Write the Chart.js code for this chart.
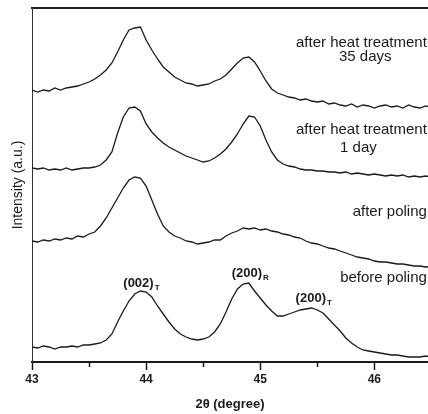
<!DOCTYPE html>
<html>
<head>
<meta charset="utf-8">
<style>
  html, body { margin: 0; padding: 0; background: #fff; }
  #wrap { width: 428px; height: 414px; }
</style>
<script src="https://cdn.jsdelivr.net/npm/chart.js@4"></script>
</head>
<body>
<div id="wrap"><canvas id="xrdChart" width="428" height="414"></canvas></div>
<script>
// 2θ positions (degree)
const twoTheta = [
  43.00, 43.05, 43.10, 43.15, 43.20, 43.25, 43.30, 43.35, 43.40, 43.45,
  43.50, 43.55, 43.60, 43.65, 43.70, 43.75, 43.80, 43.85, 43.90, 43.95,
  44.00, 44.05, 44.10, 44.15, 44.20, 44.25, 44.30, 44.35, 44.40, 44.45,
  44.50, 44.55, 44.60, 44.65, 44.70, 44.75, 44.80, 44.85, 44.90, 44.95,
  45.00, 45.05, 45.10, 45.15, 45.20, 45.25, 45.30, 45.35, 45.40, 45.45,
  45.50, 45.55, 45.60, 45.65, 45.70, 45.75, 45.80, 45.85, 45.90, 45.95,
  46.00, 46.05, 46.10, 46.15, 46.20, 46.25, 46.30, 46.35, 46.40, 46.45, 46.50
];

// Intensidades (a.u.), curvas desplazadas verticalmente
const heat35Days = [
  272, 270, 272, 271, 274, 272, 274, 275, 276, 278, 280, 283, 287, 292, 299, 310, 322, 332, 334, 335,
  322, 312, 303, 295, 290, 285, 282, 279, 278, 276, 277, 278, 281, 283, 287, 293, 299, 304, 305, 300,
  291, 281, 273, 269, 267, 265, 264, 262, 263, 261, 260, 261, 258, 259, 257, 256, 258, 255, 257, 256,
  254, 256, 257, 255, 256, 254, 257, 255, 254, 256, 255
];
const heat1Day = [
  194, 193, 194, 192, 193, 192, 194, 192, 193, 194, 194, 195, 197, 202, 210, 229, 245, 254, 255, 251,
  238, 230, 224, 219, 215, 212, 209, 206, 204, 202, 200, 201, 204, 208, 213, 220, 228, 238, 246, 245,
  236, 222, 210, 202, 198, 196, 195, 193, 192, 192, 191, 191, 190, 190, 189, 190, 188, 189, 188, 187,
  188, 187, 186, 187, 186, 187, 185, 186, 185, 186, 185
];
const afterPoling = [
  121, 120, 122, 121, 123, 122, 124, 123, 126, 125, 128, 130, 136, 144, 154, 164, 174, 182, 185, 184,
  176, 162, 148, 136, 130, 126, 124, 121, 120, 118, 119, 120, 122, 122, 126, 129, 131, 134, 133, 134,
  132, 133, 131, 130, 128, 127, 125, 124, 121, 119, 118, 116, 114, 113, 111, 109, 107, 105, 104, 103,
  101, 100, 100, 99, 98, 98, 97, 96, 96, 95, 95
];
const beforePoling = [
  15, 14, 16, 15, 13, 15, 15, 16, 15, 17, 17, 18, 19, 22, 28, 40, 51, 61, 68, 71,
  70, 65, 56, 48, 40, 33, 28, 25, 23, 22, 23, 25, 30, 38, 50, 63, 73, 78, 79, 71,
  64, 57, 51, 46, 46, 48, 50, 52, 53, 54, 52, 49, 43, 37, 31, 24, 19, 15, 12, 11,
  10, 9, 8, 7, 7, 6, 5, 5, 5, 6, 5
];

const seriesList = [heat35Days, heat1Day, afterPoling, beforePoling];
const seriesNames = ['after heat treatment 35 days', 'after heat treatment 1 day', 'after poling', 'before poling'];

// ticks del eje x
const majorTicks = [43, 44, 45, 46];
const minorTicks = [43.5, 44.5, 45.5];

const FONT = '"Liberation Sans", Arial, sans-serif';
const ink = '#1a1a1a';

// Etiquetas dentro del grafico: [texto, subindice, x (2θ), y (a.u.), alineacion, fuente]
const curveLabels = [
  ['after heat treatment', '', 46.46, 319, 'right', '15px'],
  ['35 days', '', 45.92, 305, 'center', '15px'],
  ['after heat treatment', '', 46.46, 232, 'right', '15px'],
  ['1 day', '', 45.86, 214, 'center', '15px'],
  ['after poling', '', 46.46, 150, 'right', '15px'],
  ['before poling', '', 46.46, 84, 'right', '15px'],
  ['(002)', 'T', 43.80, 79, 'left', 'bold 13px'],
  ['(200)', 'R', 44.75, 89, 'left', 'bold 13px'],
  ['(200)', 'T', 45.31, 64, 'left', 'bold 13px']
];

const labelsPlugin = {
  id: 'labelsPlugin',
  afterDraw(chart) {
    const { ctx, chartArea, scales: { x, y } } = chart;
    ctx.save();
    // ticks menores
    ctx.strokeStyle = ink;
    ctx.lineWidth = 1.5;
    minorTicks.forEach(v => {
      const px = Math.round(x.getPixelForValue(v)) + 0.5;
      ctx.beginPath();
      ctx.moveTo(px, chartArea.bottom);
      ctx.lineTo(px, chartArea.bottom + 5);
      ctx.stroke();
    });
    // textos
    ctx.fillStyle = ink;
    ctx.textBaseline = 'middle';
    curveLabels.forEach(([text, sub, xv, yv, align, font]) => {
      const px = x.getPixelForValue(xv);
      const py = y.getPixelForValue(yv);
      ctx.font = `${font} ${FONT}`;
      ctx.textAlign = align;
      ctx.fillText(text, px, py);
      if (sub) {
        const w = ctx.measureText(text).width;
        ctx.font = `bold 8px ${FONT}`;
        ctx.textAlign = 'left';
        ctx.fillText(sub, px + w + 1, py + 5);
      }
    });
    ctx.restore();
  }
};

const datasets = seriesList.map((serie, i) => ({
  label: seriesNames[i],
  data: twoTheta.map((t, j) => ({ x: t, y: serie[j] })),
  borderColor: ink,
  borderWidth: 1.3,
  pointRadius: 0,
  tension: 0,
  fill: false
}));

new Chart(document.getElementById('xrdChart'), {
  type: 'line',
  data: { datasets },
  options: {
    responsive: false,
    animation: false,
    devicePixelRatio: 1,
    layout: { padding: 0 },
    plugins: {
      legend: { display: false },
      tooltip: { enabled: false }
    },
    scales: {
      x: {
        type: 'linear',
        position: 'bottom',
        min: 43,
        max: 46.47,
        afterBuildTicks: scale => { scale.ticks = majorTicks.map(v => ({ value: v })); },
        afterFit: scale => { scale.height = 52; },
        ticks: {
          font: { family: FONT, size: 12, weight: 'bold' },
          color: ink,
          padding: 2,
          maxRotation: 0,
          callback: v => String(v)
        },
        grid: {
          drawOnChartArea: false,
          drawTicks: true,
          tickLength: 8,
          tickColor: ink,
          tickWidth: 1.5
        },
        border: { color: ink, width: 2 },
        title: {
          display: true,
          text: '2θ (degree)',
          color: ink,
          font: { family: FONT, size: 13, weight: 'bold' },
          padding: { top: 0, bottom: 2 }
        }
      },
      xTop: {
        type: 'linear',
        position: 'top',
        min: 43,
        max: 46.47,
        afterFit: scale => { scale.height = 8; },
        ticks: { display: false },
        grid: { drawOnChartArea: false, drawTicks: false },
        border: { color: '#222', width: 2 }
      },
      y: {
        type: 'linear',
        position: 'left',
        min: 0,
        max: 354,
        afterFit: scale => { scale.width = 32; },
        ticks: { display: false },
        grid: { drawOnChartArea: false, drawTicks: false },
        border: { color: '#333', width: 1 },
        title: {
          display: true,
          text: 'Intensity (a.u.)',
          color: ink,
          font: { family: FONT, size: 14 },
          padding: { top: 10 }
        }
      }
    }
  },
  plugins: [labelsPlugin]
});
</script>
</body>
</html>
